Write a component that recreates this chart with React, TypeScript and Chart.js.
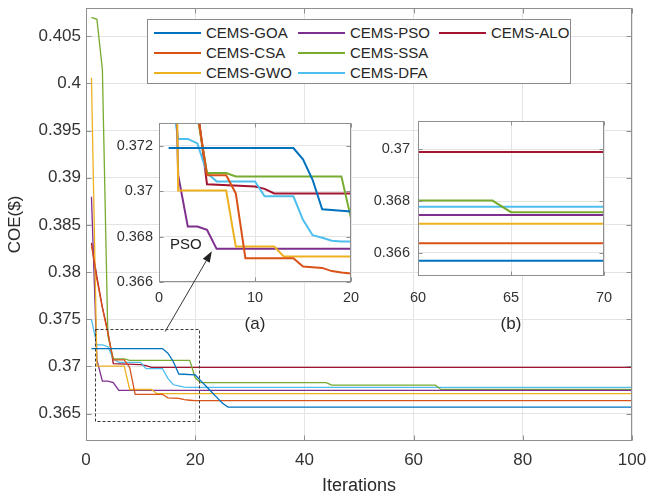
import React, { useEffect, useRef } from "react";
import { Chart, registerables } from "chart.js";

Chart.register(...registerables);

const FONT = '"Liberation Sans", Arial, Helvetica, sans-serif';

// Best COE value per iteration, stored at the iterations where it changes
const goaIter = [1, 14, 15, 16, 17, 20, 21, 22, 23, 24, 25, 26, 100];
const goaCoe = [0.3719, 0.3719, 0.3714, 0.3705, 0.3692, 0.3691, 0.3685, 0.3679, 0.3673, 0.3667, 0.3661, 0.36569, 0.36569];

const csaIter = [1, 2, 3, 4, 5, 7, 8, 9, 14, 15, 17, 18, 19, 20, 100];
const csaCoe = [0.3829, 0.3792, 0.3762, 0.3735, 0.3707, 0.3707, 0.3699, 0.36705, 0.36705, 0.36668, 0.36662, 0.36648, 0.36642, 0.36637, 0.36637];

const gwoIter = [1, 2, 7, 8, 12, 13, 100];
const gwoCoe = [0.4006, 0.37003, 0.37003, 0.36756, 0.36756, 0.36712, 0.36712];

const psoIter = [1, 2, 3, 4, 5, 6, 100];
const psoCoe = [0.388, 0.3707, 0.36844, 0.36844, 0.3683, 0.36746, 0.36746];

const ssaIter = [1, 2, 3, 4, 5, 7, 8, 19, 20, 21, 44, 45, 64, 65, 100];
const ssaCoe = [0.407, 0.4068, 0.4015, 0.3733, 0.3708, 0.3708, 0.37065, 0.37065, 0.3688, 0.36828, 0.36828, 0.36802, 0.36802, 0.36757, 0.36757];

const dfaIter = [1, 2, 3, 4, 5, 6, 10, 11, 14, 15, 16, 17, 18, 19, 100];
const dfaCoe = [0.375, 0.3723, 0.3723, 0.3721, 0.3708, 0.37043, 0.37043, 0.36977, 0.36977, 0.36874, 0.36806, 0.36795, 0.36782, 0.36778, 0.36778];

const aloIter = [1, 2, 3, 4, 5, 10, 11, 12, 100];
const aloCoe = [0.3831, 0.3795, 0.3763, 0.3737, 0.3703, 0.3702, 0.3701, 0.3699, 0.3699];

const seriesNames = ["CEMS-GOA", "CEMS-CSA", "CEMS-GWO", "CEMS-PSO", "CEMS-SSA", "CEMS-DFA", "CEMS-ALO"];
const seriesIters = [goaIter, csaIter, gwoIter, psoIter, ssaIter, dfaIter, aloIter];
const seriesCoes = [goaCoe, csaCoe, gwoCoe, psoCoe, ssaCoe, dfaCoe, aloCoe];
const seriesColors = ["#0072BD", "#D95319", "#EDB120", "#7E2F8E", "#77AC30", "#4DBEEE", "#A2142F"];

// Axis ticks
const mainXTicks = [0, 20, 40, 60, 80, 100];
const mainYTicks = [0.365, 0.37, 0.375, 0.38, 0.385, 0.39, 0.395, 0.4, 0.405];
const zoomAXTicks = [0, 10, 20];
const zoomAYTicks = [0.366, 0.368, 0.37, 0.372];
const zoomBXTicks = [60, 65, 70];
const zoomBYTicks = [0.366, 0.368, 0.37];

// Zoom window outline on the main axes (iterations, COE)
const zoomWindow = { x0: 1.7, x1: 20.7, y0: 0.3642, y1: 0.374 };
// Arrow from the zoom window (main axes) to the PSO curve (inset a)
const arrowFrom = { x: 14.5, y: 0.3737 };
const arrowTo = { x: 5.5, y: 0.36735 };
const psoNote = { x: 2.8, y: 0.36765, text: "PSO" };

const fmt = (v: number) => String(parseFloat(Number(v).toFixed(4)));

const makeDatasets = (width: number) =>
  seriesNames.map((name, i) => ({
    label: name,
    data: seriesIters[i].map((x, k) => ({ x, y: seriesCoes[i][k] })),
    borderColor: seriesColors[i],
    backgroundColor: seriesColors[i],
    borderWidth: width,
    pointRadius: 0,
    tension: 0,
    fill: false,
    clip: 0,
  }));

const framePlugin = {
  id: "frame",
  beforeDraw(chart: any) {
    const { ctx, chartArea: a } = chart;
    ctx.save();
    ctx.fillStyle = "#ffffff";
    ctx.fillRect(a.left, a.top, a.right - a.left, a.bottom - a.top);
    ctx.restore();
  },
  afterDraw(chart: any, _args: any, opts: any) {
    const { ctx, chartArea: a, scales } = chart;
    const len = opts.tickLength || 5;
    ctx.save();
    ctx.strokeStyle = opts.color || "#888";
    ctx.lineWidth = 1;
    const L = Math.round(a.left) + 0.5;
    const R = Math.round(a.right) - 0.5;
    const T = Math.round(a.top) + 0.5;
    const B = Math.round(a.bottom) - 0.5;
    ctx.beginPath();
    for (const t of scales.x.ticks) {
      const px = Math.round(scales.x.getPixelForValue(t.value)) + 0.5;
      ctx.moveTo(px, B);
      ctx.lineTo(px, B - len);
      ctx.moveTo(px, T);
      ctx.lineTo(px, T + len);
    }
    for (const t of scales.y.ticks) {
      const py = Math.round(scales.y.getPixelForValue(t.value)) + 0.5;
      ctx.moveTo(L, py);
      ctx.lineTo(L + len, py);
      ctx.moveTo(R, py);
      ctx.lineTo(R - len, py);
    }
    ctx.stroke();
    ctx.strokeRect(L, T, R - L, B - T);
    ctx.restore();
  },
};

const zoomBoxPlugin = {
  id: "zoomBox",
  afterDatasetsDraw(chart: any) {
    const { ctx, scales } = chart;
    const x0 = scales.x.getPixelForValue(zoomWindow.x0);
    const x1 = scales.x.getPixelForValue(zoomWindow.x1);
    const y0 = scales.y.getPixelForValue(zoomWindow.y0);
    const y1 = scales.y.getPixelForValue(zoomWindow.y1);
    ctx.save();
    ctx.strokeStyle = "#3a3a3a";
    ctx.lineWidth = 1;
    ctx.setLineDash([3, 2]);
    ctx.strokeRect(Math.round(x0) + 0.5, Math.round(y1) + 0.5, Math.round(x1 - x0), Math.round(y0 - y1));
    ctx.restore();
  },
};

const psoNotePlugin = {
  id: "psoNote",
  afterDraw(chart: any) {
    const { ctx, scales } = chart;
    ctx.save();
    ctx.font = `15px ${FONT}`;
    ctx.fillStyle = "#222";
    ctx.textAlign = "center";
    ctx.textBaseline = "middle";
    ctx.fillText(psoNote.text, scales.x.getPixelForValue(psoNote.x), scales.y.getPixelForValue(psoNote.y));
    ctx.restore();
  },
};

type AxisSpec = {
  xMin: number; xMax: number; yMin: number; yMax: number;
  xTicks: number[]; yTicks: number[];
  yWidth: number; xHeight: number;
  padding: { left: number; top: number; right: number; bottom: number };
  tickSize: number; xTickPad: number; yTickPad: number;
  xTitle: string; xTitleSize: number; xTitlePad: number;
  yTitle?: string; yTitleSize?: number; yTitlePad?: number;
  lineWidth: number; frameTick: number; grid: string;
};

const buildConfig = (s: AxisSpec, extra: any[]) => ({
  type: "line" as const,
  data: { datasets: makeDatasets(s.lineWidth) },
  options: {
    responsive: false,
    animation: false as const,
    devicePixelRatio: 1,
    layout: { padding: s.padding },
    plugins: {
      legend: { display: false },
      tooltip: { enabled: false },
      frame: { color: "#8f8f8f", tickLength: s.frameTick },
    },
    scales: {
      x: {
        type: "linear" as const,
        min: s.xMin,
        max: s.xMax,
        afterBuildTicks: (sc: any) => { sc.ticks = s.xTicks.map((value) => ({ value })); },
        afterFit: (sc: any) => { sc.height = s.xHeight; sc.paddingLeft = 0; sc.paddingRight = 0; },
        grid: { color: "#e4e4e4", drawTicks: false },
        border: { display: false },
        ticks: {
          font: { family: FONT, size: s.tickSize },
          color: "#333",
          padding: s.xTickPad,
          maxRotation: 0,
          autoSkip: false,
          callback: (v: any) => fmt(v),
        },
        title: {
          display: true,
          text: s.xTitle,
          font: { family: FONT, size: s.xTitleSize },
          color: "#2a2a2a",
          padding: { top: 0, bottom: s.xTitlePad },
        },
      },
      y: {
        type: "linear" as const,
        min: s.yMin,
        max: s.yMax,
        afterBuildTicks: (sc: any) => { sc.ticks = s.yTicks.map((value) => ({ value })); },
        afterFit: (sc: any) => { sc.width = s.yWidth; sc.paddingTop = 0; sc.paddingBottom = 0; },
        grid: { color: "#e4e4e4", drawTicks: false },
        border: { display: false },
        ticks: {
          font: { family: FONT, size: s.tickSize },
          color: "#333",
          padding: s.yTickPad,
          autoSkip: false,
          callback: (v: any) => fmt(v),
        },
        title: {
          display: !!s.yTitle,
          text: s.yTitle || "",
          font: { family: FONT, size: s.yTitleSize || 16 },
          color: "#2a2a2a",
          padding: { top: s.yTitlePad || 0, bottom: 0 },
        },
      },
    },
  },
  plugins: [framePlugin, ...extra],
});

const insetA = { left: 100, top: 110, width: 270, height: 240 };
const insetB = { left: 360, top: 108, width: 270, height: 240 };

const legendCols = [6, 150, 291];
const legendRows = [13, 33, 53];

export default function App() {
  const mainRef = useRef<HTMLCanvasElement>(null);
  const aRef = useRef<HTMLCanvasElement>(null);
  const bRef = useRef<HTMLCanvasElement>(null);
  const arrowRef = useRef<HTMLCanvasElement>(null);

  useEffect(() => {
    const main = new Chart(
      mainRef.current!,
      buildConfig(
        {
          xMin: 0, xMax: 100, yMin: 0.3621, yMax: 0.408,
          xTicks: mainXTicks, yTicks: mainYTicks,
          yWidth: 86, xHeight: 56,
          padding: { left: 0, top: 8, right: 14, bottom: 0 },
          tickSize: 17, xTickPad: 9, yTickPad: 5,
          xTitle: "Iterations", xTitleSize: 18, xTitlePad: 0,
          yTitle: "COE($)", yTitleSize: 17, yTitlePad: 5,
          lineWidth: 1.3, frameTick: 5, grid: "#e4e4e4",
        },
        [zoomBoxPlugin]
      ) as any
    );
    const a = new Chart(
      aRef.current!,
      buildConfig(
        {
          xMin: 0, xMax: 20, yMin: 0.366, yMax: 0.373,
          xTicks: zoomAXTicks, yTicks: zoomAYTicks,
          yWidth: 59, xHeight: 68,
          padding: { left: 0, top: 13, right: 19, bottom: 0 },
          tickSize: 14.5, xTickPad: 7, yTickPad: 6,
          xTitle: "(a)", xTitleSize: 17, xTitlePad: 15,
          lineWidth: 2, frameTick: 4, grid: "#e4e4e4",
        },
        [psoNotePlugin]
      ) as any
    );
    const b = new Chart(
      bRef.current!,
      buildConfig(
        {
          xMin: 60, xMax: 70, yMin: 0.3651, yMax: 0.3711,
          xTicks: zoomBXTicks, yTicks: zoomBYTicks,
          yWidth: 58, xHeight: 72,
          padding: { left: 0, top: 13, right: 26, bottom: 0 },
          tickSize: 14.5, xTickPad: 13, yTickPad: 8,
          xTitle: "(b)", xTitleSize: 17, xTitlePad: 13,
          lineWidth: 2, frameTick: 4, grid: "#e4e4e4",
        },
        []
      ) as any
    );

    // Arrow linking the zoom window to the PSO curve in inset (a)
    const canvas = arrowRef.current!;
    const ctx = canvas.getContext("2d")!;
    ctx.clearRect(0, 0, canvas.width, canvas.height);
    const tx = main.scales.x.getPixelForValue(arrowFrom.x);
    const ty = main.scales.y.getPixelForValue(arrowFrom.y);
    const hx = insetA.left + a.scales.x.getPixelForValue(arrowTo.x);
    const hy = insetA.top + a.scales.y.getPixelForValue(arrowTo.y);
    const ang = Math.atan2(hy - ty, hx - tx);
    const headLen = 11;
    const headHalf = 4;
    const bx = hx - headLen * Math.cos(ang);
    const by = hy - headLen * Math.sin(ang);
    ctx.strokeStyle = "#333";
    ctx.fillStyle = "#222";
    ctx.lineWidth = 1;
    ctx.beginPath();
    ctx.moveTo(tx, ty);
    ctx.lineTo(bx, by);
    ctx.stroke();
    ctx.beginPath();
    ctx.moveTo(hx, hy);
    ctx.lineTo(bx + headHalf * Math.sin(ang), by - headHalf * Math.cos(ang));
    ctx.lineTo(bx - headHalf * Math.sin(ang), by + headHalf * Math.cos(ang));
    ctx.closePath();
    ctx.fill();

    return () => {
      main.destroy();
      a.destroy();
      b.destroy();
    };
  }, []);

  const abs = (l: number, t: number, w: number, h: number): React.CSSProperties => ({
    position: "absolute", left: l, top: t, width: w, height: h,
  });

  return (
    <div style={{ position: "absolute", left: 0, top: 0, width: 646, height: 497, background: "#fff", overflow: "hidden" }}>
      <canvas ref={mainRef} width={646} height={497} style={abs(0, 0, 646, 497)} />
      <div
        style={{
          ...abs(147, 19, 424, 65),
          boxSizing: "border-box",
          border: "1px solid #8a8a8a",
          background: "#fff",
          fontFamily: FONT,
          fontSize: 15,
          color: "#262626",
        }}
      >
        {seriesNames.map((name, i) => {
          const col = Math.floor(i / 3);
          const row = i % 3;
          const x = legendCols[col];
          const y = legendRows[row];
          return (
            <React.Fragment key={name}>
              <div style={{ position: "absolute", left: x, top: y - 1, width: 47, height: 2, background: seriesColors[i] }} />
              <div style={{ position: "absolute", left: x + 52, top: y - 9, lineHeight: "18px", whiteSpace: "nowrap" }}>{name}</div>
            </React.Fragment>
          );
        })}
      </div>
      <canvas ref={aRef} width={insetA.width} height={insetA.height} style={abs(insetA.left, insetA.top, insetA.width, insetA.height)} />
      <canvas ref={bRef} width={insetB.width} height={insetB.height} style={abs(insetB.left, insetB.top, insetB.width, insetB.height)} />
      <canvas ref={arrowRef} width={646} height={497} style={{ ...abs(0, 0, 646, 497), pointerEvents: "none" }} />
    </div>
  );
}
